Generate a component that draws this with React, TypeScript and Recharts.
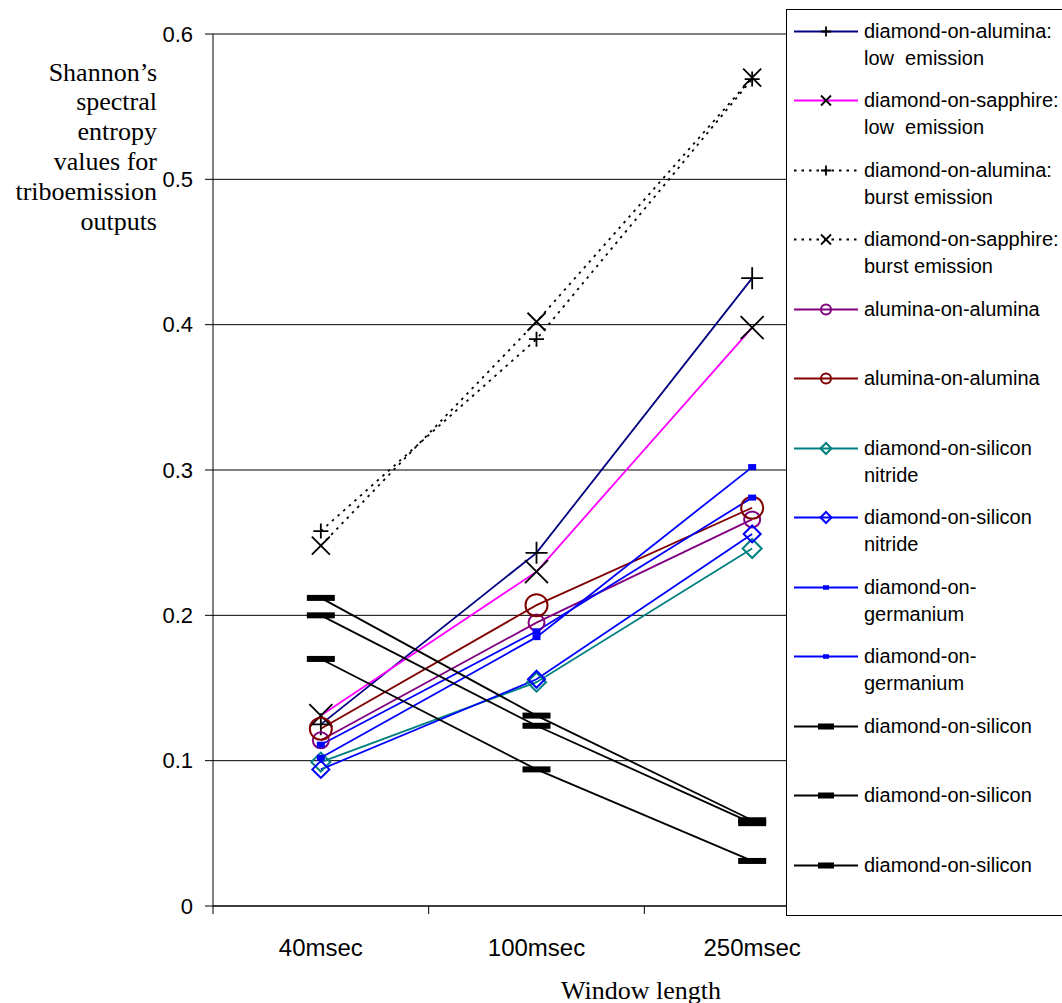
import React from "react";
import { LineChart, Line, XAxis, YAxis, CartesianGrid } from "recharts";

const windows = ["40msec", "100msec", "250msec"];
const yTicks = [0, 0.1, 0.2, 0.3, 0.4, 0.5, 0.6];

// values, one per window
const aluminaLow = [0.125, 0.243, 0.432];
const sapphireLow = [0.131, 0.23, 0.398];
const aluminaBurst = [0.258, 0.39, 0.569];
const sapphireBurst = [0.248, 0.402, 0.57];
const aluminaOnAluminaA = [0.114, 0.195, 0.266];
const aluminaOnAluminaB = [0.122, 0.207, 0.274];
const siliconNitrideA = [0.099, 0.154, 0.246];
const siliconNitrideB = [0.094, 0.156, 0.256];
const germaniumA = [0.111, 0.189, 0.281];
const germaniumB = [0.102, 0.185, 0.302];
const siliconA = [0.212, 0.131, 0.059];
const siliconB = [0.2, 0.124, 0.057];
const siliconC = [0.17, 0.094, 0.031];

const yTitle = ["Shannon\u2019s", "spectral", "entropy", "values for", "triboemission", "outputs"];

type Kind = "plus" | "cross" | "circle" | "diamond" | "square" | "dash";

const series = [
  { key: "aluminaLow", values: aluminaLow, name: ["diamond-on-alumina:", "low  emission"], color: "#000080", dash: undefined, kind: "plus" as Kind, mcolor: "#000", size: 11, lsize: 5 },
  { key: "sapphireLow", values: sapphireLow, name: ["diamond-on-sapphire:", "low  emission"], color: "#FF00FF", dash: undefined, kind: "cross" as Kind, mcolor: "#000", size: 11.5, lsize: 5 },
  { key: "aluminaBurst", values: aluminaBurst, name: ["diamond-on-alumina:", "burst emission"], color: "#000", dash: "2.5 5", kind: "plus" as Kind, mcolor: "#000", size: 7.5, lsize: 5 },
  { key: "sapphireBurst", values: sapphireBurst, name: ["diamond-on-sapphire:", "burst emission"], color: "#000", dash: "2.5 5", kind: "cross" as Kind, mcolor: "#000", size: 9, lsize: 5 },
  { key: "aluminaOnAluminaA", values: aluminaOnAluminaA, name: ["alumina-on-alumina"], color: "#800080", dash: undefined, kind: "circle" as Kind, mcolor: "#800080", size: 8, lsize: 5 },
  { key: "aluminaOnAluminaB", values: aluminaOnAluminaB, name: ["alumina-on-alumina"], color: "#800000", dash: undefined, kind: "circle" as Kind, mcolor: "#800000", size: 11, lsize: 5 },
  { key: "siliconNitrideA", values: siliconNitrideA, name: ["diamond-on-silicon", "nitride"], color: "#008080", dash: undefined, kind: "diamond" as Kind, mcolor: "#008080", size: 9.5, lsize: 5.5 },
  { key: "siliconNitrideB", values: siliconNitrideB, name: ["diamond-on-silicon", "nitride"], color: "#0000FF", dash: undefined, kind: "diamond" as Kind, mcolor: "#0000FF", size: 8.5, lsize: 5.5 },
  { key: "germaniumA", values: germaniumA, name: ["diamond-on-", "germanium"], color: "#0000FF", dash: undefined, kind: "square" as Kind, mcolor: "#0000FF", size: 4, lsize: 3 },
  { key: "germaniumB", values: germaniumB, name: ["diamond-on-", "germanium"], color: "#0000FF", dash: undefined, kind: "square" as Kind, mcolor: "#0000FF", size: 4, lsize: 3 },
  { key: "siliconA", values: siliconA, name: ["diamond-on-silicon"], color: "#000", dash: undefined, kind: "dash" as Kind, mcolor: "#000", size: 14, lsize: 8 },
  { key: "siliconB", values: siliconB, name: ["diamond-on-silicon"], color: "#000", dash: undefined, kind: "dash" as Kind, mcolor: "#000", size: 14, lsize: 8 },
  { key: "siliconC", values: siliconC, name: ["diamond-on-silicon"], color: "#000", dash: undefined, kind: "dash" as Kind, mcolor: "#000", size: 14, lsize: 8 },
];

const data = windows.map((w, i) => {
  const row: any = { x: i + 0.5, label: w };
  series.forEach((s) => (row[s.key] = s.values[i]));
  return row;
});

function Marker({ kind, cx, cy, s, color }: { kind: Kind; cx: number; cy: number; s: number; color: string }) {
  if (cx == null || cy == null) return null;
  switch (kind) {
    case "plus":
      return <path d={`M${cx - s},${cy}H${cx + s}M${cx},${cy - s}V${cy + s}`} stroke={color} strokeWidth={1.8} fill="none" />;
    case "cross":
      return <path d={`M${cx - s},${cy - s}L${cx + s},${cy + s}M${cx - s},${cy + s}L${cx + s},${cy - s}`} stroke={color} strokeWidth={1.8} fill="none" />;
    case "circle":
      return <circle cx={cx} cy={cy} r={s} stroke={color} strokeWidth={2} fill="none" />;
    case "diamond":
      return <path d={`M${cx},${cy - s}L${cx + s},${cy}L${cx},${cy + s}L${cx - s},${cy}Z`} stroke={color} strokeWidth={2} fill="none" />;
    case "square":
      return <rect x={cx - s} y={cy - s * 0.75} width={s * 2} height={s * 1.5} fill={color} />;
    case "dash":
      return <rect x={cx - s} y={cy - 3} width={s * 2} height={6} fill={color} />;
  }
  return null;
}

const XTick = (props: any) => {
  const { x, y, payload } = props;
  const v = payload.value;
  if (Number.isInteger(v)) {
    return <line x1={x} x2={x} y1={y} y2={y + 8} stroke="#000" strokeWidth={1} />;
  }
  const idx = Math.floor(v);
  return (
    <text x={x} y={y + 41} textAnchor="middle" dominantBaseline="central" fontSize={24} fontFamily="Liberation Sans, Arial" fill="#000">
      {windows[idx]}
    </text>
  );
};

const TitleLabels = () => (
  <g fontFamily="Liberation Serif, Times New Roman, serif" fontSize={26} fill="#000">
    {yTitle.map((t, i) => (
      <text key={i} x={157} y={72 + i * 29.8} textAnchor="end" dominantBaseline="central">
        {t}
      </text>
    ))}
    <text x={641} y={990} textAnchor="middle" dominantBaseline="central">
      Window length
    </text>
  </g>
);

function Legend() {
  return (
    <div
      style={{
        position: "absolute",
        left: 786,
        top: 9,
        width: 300,
        height: 907,
        border: "1px solid #000",
        background: "#fff",
        boxSizing: "border-box",
        fontFamily: "Liberation Sans, Arial",
        fontSize: 20,
        color: "#000",
      }}
    >
      {series.map((s, i) => {
        const rowY = 31 + i * 69.5 - 10;
        return (
          <div key={s.key} style={{ position: "absolute", left: 0, top: rowY - 13.5 }}>
            <svg width={80} height={27} style={{ position: "absolute", left: 0, top: 0 }}>
              <line x1={7} x2={71} y1={13.5} y2={13.5} stroke={s.color} strokeWidth={1.8} strokeDasharray={s.dash} />
              <Marker kind={s.kind} cx={39} cy={13.5} s={s.lsize} color={s.mcolor} />
            </svg>
            <div style={{ position: "absolute", left: 77, top: 0, whiteSpace: "pre", lineHeight: "27px" }}>
              {s.name.map((n, j) => (
                <div key={j}>{n}</div>
              ))}
            </div>
          </div>
        );
      })}
    </div>
  );
}

export default function App() {
  return (
    <div style={{ position: "absolute", left: 0, top: 0, width: 1062, height: 1003, background: "#fff" }}>
      <LineChart width={1062} height={1003} data={data} margin={{ top: 34, right: 202, left: 0, bottom: 0 }}>
        <CartesianGrid horizontal vertical={false} stroke="#000" strokeWidth={1} />
        <XAxis
          dataKey="x"
          type="number"
          domain={[0, 3]}
          ticks={[0, 0.5, 1, 1.5, 2, 2.5, 3]}
          interval={0}
          height={97}
          tickSize={0}
          tickMargin={0}
          tickLine={false}
          axisLine={{ stroke: "#000", strokeWidth: 1 }}
          tick={<XTick />}
        />
        <YAxis
          type="number"
          domain={[0, 0.6]}
          ticks={yTicks}
          interval={0}
          width={213}
          tickSize={8}
          tickMargin={12}
          tickLine={{ stroke: "#000" }}
          axisLine={{ stroke: "#000", strokeWidth: 1 }}
          tick={{ fontSize: 22, fill: "#000", fontFamily: "Liberation Sans, Arial" }}
          tickFormatter={(v: number) => String(+v.toFixed(1))}
          label={{ content: () => <TitleLabels /> }}
        />
        {series.map((s) => (
          <Line
            key={s.key}
            dataKey={s.key}
            type="linear"
            stroke={s.color}
            strokeWidth={1.8}
            strokeDasharray={s.dash}
            isAnimationActive={false}
            activeDot={false}
            dot={(p: any) => (
              <g key={`${s.key}-${p.index}`}>
                <Marker kind={s.kind} cx={p.cx} cy={p.cy} s={s.size} color={s.mcolor} />
              </g>
            )}
          />
        ))}
      </LineChart>
      <Legend />
    </div>
  );
}
